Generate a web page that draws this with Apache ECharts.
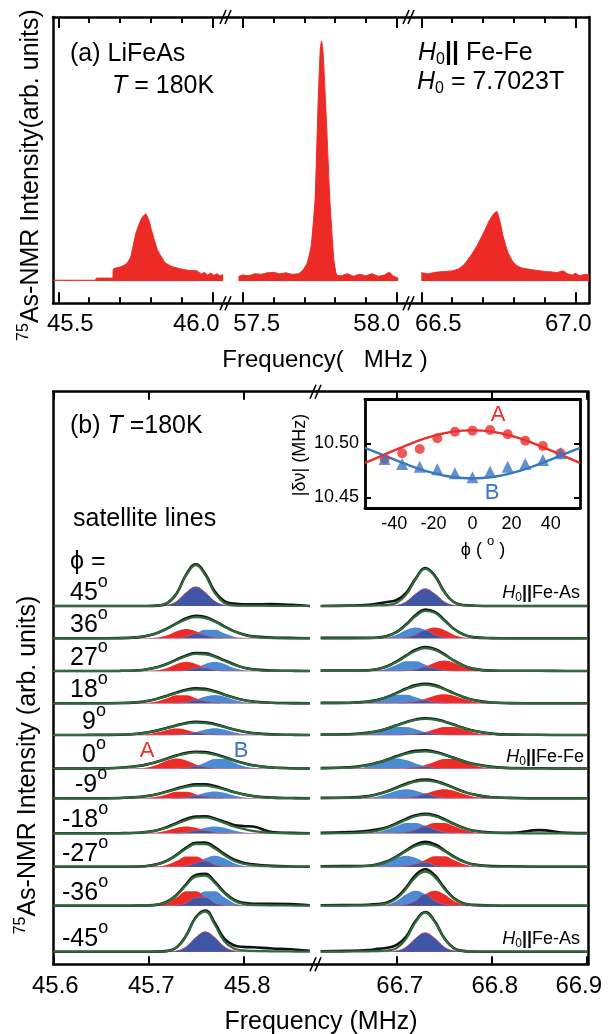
<!DOCTYPE html>
<html><head><meta charset="utf-8">
<script src="https://cdn.jsdelivr.net/npm/echarts@6/dist/echarts.min.js"></script>
<style>html,body{margin:0;padding:0;background:#fff}#c{width:609px;height:1034px}</style>
</head><body><div id="c"></div><script>
// ================= DATA =================
// Panel (a): spectrum, three frequency windows [MHz, intensity]
const specSeg1 = [[45.484,0.003],[45.62,0.003],[45.624,0.012],[45.676,0.012],[45.679,0.05],[45.70,0.058],[45.72,0.07],[45.735,0.1],[45.752,0.2],[45.77,0.26],[45.784,0.28],[45.795,0.25],[45.803,0.21],[45.812,0.17],[45.822,0.13],[45.835,0.1],[45.848,0.075],[45.87,0.06],[45.898,0.05],[45.92,0.045],[45.95,0.042],[45.965,0.03],[45.975,0.035],[45.985,0.025],[45.995,0.033],[46.005,0.024],[46.015,0.03],[46.025,0.022],[46.035,0.027]];
const specSeg2 = [[57.486,0.018],[57.50,0.025],[57.52,0.022],[57.54,0.03],[57.56,0.028],[57.58,0.034],[57.60,0.036],[57.62,0.03],[57.64,0.034],[57.66,0.028],[57.68,0.03],[57.695,0.045],[57.709,0.074],[57.722,0.143],[57.735,0.34],[57.745,0.75],[57.752,0.97],[57.756,1.0],[57.761,0.95],[57.770,0.72],[57.783,0.34],[57.796,0.088],[57.805,0.025],[57.82,0.022],[57.84,0.03],[57.86,0.02],[57.88,0.028],[57.90,0.022],[57.92,0.03],[57.94,0.02],[57.96,0.025],[57.975,0.036],[57.99,0.02],[58.005,0.012]];
const specSeg3 = [[66.50,0.035],[66.52,0.03],[66.54,0.035],[66.56,0.038],[66.58,0.04],[66.60,0.042],[66.62,0.05],[66.64,0.07],[66.663,0.11],[66.68,0.145],[66.702,0.2],[66.72,0.25],[66.735,0.28],[66.745,0.29],[66.755,0.25],[66.765,0.19],[66.781,0.12],[66.795,0.085],[66.806,0.068],[66.825,0.055],[66.845,0.05],[66.87,0.045],[66.90,0.04],[66.921,0.038],[66.94,0.035],[66.96,0.042],[66.975,0.03],[66.99,0.025],[67.00,0.032],[67.015,0.022],[67.03,0.028],[67.045,0.025]];
const tickMajorA = [[45.5,46.0],[57.5,58.0],[66.5,67.0]];
const tickMinorA = [[45.6,45.7,45.8,45.9],[57.6,57.7,57.8,57.9],[66.6,66.7,66.8,66.9]];
const tickLabelsA = [['45.5','46.0'],['57.5','58.0'],['66.5','67.0']];

// Panel (b): satellite lines, rows phi = 45 ... -45
const phiLabels = ['45','36','27','18','9','0','-9','-18','-27','-36','-45'];
const fitGridL = [45.60,45.64,45.67,45.69,45.70,45.71,45.72,45.73,45.74,45.75,45.76,45.77,45.78,45.79,45.80,45.81,45.83,45.85,45.87];
const fitGridR = [66.62,66.65,66.67,66.68,66.69,66.70,66.71,66.72,66.73,66.74,66.75,66.76,66.77,66.78,66.80,66.82,66.85,66.88,66.90];
const fitLeft = [
[0,0,0,0,0,.01,.076,.32,.77,1.02,.77,.32,.076,.015,.01,.01,.005,0,0],
[0,0,.003,.028,.066,.136,.24,.365,.474,.53,.504,.413,.29,.174,.09,.04,.005,0,0],
[0,0,.002,.018,.046,.097,.177,.276,.37,.425,.418,.353,.255,.158,.084,.038,.005,0,0],
[0,0,.005,.03,.063,.115,.182,.257,.32,.35,.336,.284,.212,.14,.082,.041,.007,.001,0],
[0,0,.007,.035,.067,.114,.175,.235,.286,.31,.299,.258,.199,.137,.084,.046,.01,.001,0],
[0,.001,.016,.063,.109,.173,.245,.317,.373,.4,.388,.344,.274,.2,.132,.078,.022,.004,0],
[0,0,.006,.031,.062,.106,.166,.23,.286,.317,.314,.277,.22,.153,.097,.054,.012,.002,0],
[0,0,.001,.014,.036,.078,.147,.238,.328,.389,.395,.344,.26,.17,.11,.06,.01,0,0],
[0,0,0,.005,.02,.061,.149,.29,.452,.564,.564,.452,.29,.15,.075,.04,.01,0,0],
[0,0,0,.001,.005,.028,.101,.265,.516,.727,.751,.566,.313,.13,.045,.02,.01,.005,0],
[0,0,0,0,0,.001,.016,.106,.4,.846,1.0,.673,.26,.08,.035,.02,.01,.005,0]];
const dataLeft = [
[0,0,0,0,0,.01,.07,.32,.79,1.04,.8,.36,.12,.06,.04,.04,.05,.03,0],
[0,0,.005,.03,.07,.14,.25,.38,.5,.56,.53,.43,.3,.18,.1,.05,.02,.01,0],
[0,0,.004,.02,.05,.1,.18,.29,.39,.45,.44,.37,.27,.17,.09,.045,.01,.005,0],
[0,0,.006,.03,.065,.12,.19,.27,.34,.375,.36,.3,.22,.145,.085,.045,.012,.005,0],
[0,.002,.008,.035,.068,.116,.18,.245,.3,.33,.32,.275,.205,.14,.086,.05,.015,.005,0],
[0,.003,.02,.065,.11,.175,.25,.33,.39,.42,.41,.36,.285,.205,.135,.08,.025,.008,0],
[0,.002,.008,.033,.064,.11,.175,.245,.31,.35,.35,.305,.235,.16,.1,.058,.018,.006,0],
[0,0,.003,.015,.04,.085,.16,.26,.36,.42,.425,.37,.29,.21,.18,.17,.03,.01,0],
[0,0,0,.006,.022,.065,.155,.3,.475,.6,.605,.49,.32,.18,.1,.06,.02,.005,0],
[0,0,0,.002,.006,.03,.105,.275,.54,.77,.8,.6,.34,.15,.07,.05,.05,.04,.01],
[0,0,0,0,0,.002,.02,.11,.41,.86,1.03,.72,.33,.16,.12,.11,.08,.06,.02]];
const fitRight = [
[0,.005,.01,.02,.03,.08,.283,.669,.93,.747,.35,.097,.02,.005,0,0,0,0,0],
[0,0,.003,.013,.052,.152,.335,.552,.683,.636,.443,.234,.092,.027,.002,0,0,0,0],
[0,.001,.017,.048,.114,.228,.374,.507,.57,.528,.406,.258,.136,.059,.006,0,0,0,0],
[.001,.006,.04,.085,.156,.25,.35,.43,.46,.43,.35,.25,.156,.085,.017,.002,0,0,0],
[.002,.012,.055,.099,.162,.24,.317,.374,.4,.383,.328,.254,.178,.111,.031,.006,0,0,0],
[.004,.023,.084,.143,.215,.295,.37,.417,.43,.401,.341,.263,.186,.117,.036,.007,.001,0,0],
[.001,.01,.051,.099,.168,.257,.346,.415,.44,.415,.346,.257,.168,.099,.023,.003,0,0,0],
[0,.003,.029,.067,.135,.23,.338,.426,.46,.426,.338,.23,.135,.067,.011,.001,0,0,0],
[0,.001,.019,.053,.125,.243,.391,.519,.57,.519,.391,.243,.125,.053,.005,0,0,0,0],
[0,.005,.01,.02,.06,.18,.425,.715,.85,.715,.425,.179,.055,.015,.005,0,0,0,0],
[0,.005,.01,.015,.03,.09,.33,.744,.975,.744,.33,.086,.015,.003,0,0,0,0,0]];
const dataRight = [
[0,.01,.03,.06,.1,.15,.33,.69,.95,.76,.36,.1,.025,.01,0,0,0,0,0],
[.01,.01,.01,.02,.06,.16,.35,.58,.72,.66,.46,.24,.1,.03,.005,0,0,0,0],
[.01,.01,.02,.05,.12,.24,.39,.53,.6,.55,.42,.265,.14,.06,.01,.005,.005,0,0],
[.01,.015,.045,.09,.16,.26,.37,.455,.49,.455,.36,.255,.16,.087,.02,.005,0,0,0],
[.01,.02,.06,.1,.165,.245,.325,.39,.42,.4,.34,.26,.18,.112,.035,.01,.005,0,0],
[.01,.03,.09,.15,.225,.31,.39,.44,.455,.42,.35,.27,.19,.12,.04,.01,.005,0,0],
[.01,.02,.055,.105,.175,.27,.365,.44,.47,.44,.36,.265,.17,.1,.025,.01,0,0,0],
[.01,.03,.06,.1,.15,.25,.36,.45,.49,.45,.35,.24,.14,.07,.02,.01,.08,.01,.005],
[.01,.015,.025,.06,.135,.26,.41,.55,.62,.56,.41,.255,.135,.06,.015,.01,0,0,0],
[.01,.015,.025,.04,.08,.21,.46,.77,.91,.76,.45,.19,.06,.02,.005,0,0,0,0],
[.01,.02,.04,.07,.1,.17,.38,.77,.99,.76,.34,.09,.02,.005,0,0,0,0,0]];
const compGridL = [45.68,45.69,45.70,45.71,45.72,45.73,45.74,45.75,45.76,45.77,45.78,45.79,45.80,45.81,45.82,45.83];
const compGridR = [66.65,66.66,66.67,66.68,66.69,66.70,66.71,66.72,66.73,66.74,66.75,66.76,66.77,66.78,66.79,66.80];
const compALeft = [
[0,0,0,.002,.021,.12,.339,.48,.339,.12,.021,.002,0,0,0,0],
[0,.001,.003,.02,.077,.175,.23,.175,.077,.02,.003,.001,0,0,0,0],
[0,.001,.003,.02,.077,.175,.23,.175,.077,.02,.003,.001,0,0,0,0],
[0,.002,.014,.052,.127,.199,.199,.127,.052,.014,.002,0,0,0,0,0],
[.001,.005,.022,.066,.128,.16,.128,.066,.022,.005,.001,0,0,0,0,0],
[.001,.007,.034,.103,.2,.25,.2,.103,.034,.007,.001,0,0,0,0,0],
[0,.002,.011,.042,.103,.161,.161,.103,.042,.011,.002,0,0,0,0,0],
[0,.001,.005,.023,.07,.136,.17,.136,.07,.023,.005,.001,0,0,0,0],
[0,0,.001,.01,.05,.148,.257,.257,.148,.05,.01,.001,0,0,0,0],
[0,0,.002,.014,.07,.21,.364,.364,.21,.07,.014,.002,0,0,0,0],
[0,0,0,0,.002,.022,.125,.354,.5,.354,.125,.022,.002,0,0,0]];
const compBLeft = [
[0,0,0,.002,.021,.12,.339,.48,.339,.12,.021,.002,0,0,0,0],
[0,0,0,0,.001,.008,.041,.124,.215,.215,.124,.041,.008,.001,0,0],
[0,0,0,0,.001,.003,.02,.077,.175,.23,.175,.077,.02,.003,.001,0],
[0,0,0,0,.001,.006,.028,.086,.168,.21,.168,.086,.028,.006,.001,0],
[0,0,0,0,.001,.005,.023,.07,.136,.17,.136,.07,.023,.005,.001,0],
[0,0,0,0,0,.003,.017,.062,.152,.237,.237,.152,.062,.017,.003,0],
[0,0,0,0,.001,.005,.023,.07,.136,.17,.136,.07,.023,.005,.001,0],
[0,0,0,0,.001,.005,.023,.07,.136,.17,.136,.07,.023,.005,.001,0],
[0,0,0,0,.001,.003,.023,.092,.209,.275,.209,.092,.023,.003,.001,0],
[0,0,0,0,.002,.014,.07,.21,.364,.364,.21,.07,.014,.002,0,0],
[0,0,0,0,.002,.022,.125,.354,.5,.354,.125,.022,.002,0,0,0]];
const compARight = [
[0,0,0,0,.002,.019,.107,.304,.43,.304,.107,.019,.002,0,0,0],
[0,0,0,0,.001,.003,.023,.09,.205,.27,.205,.09,.023,.003,.001,0],
[0,0,0,0,0,.001,.008,.035,.107,.208,.26,.208,.107,.035,.008,.001],
[0,0,0,0,0,.003,.014,.047,.113,.189,.225,.189,.113,.047,.014,.003],
[0,0,0,0,0,0,.006,.025,.071,.142,.201,.201,.142,.071,.025,.006],
[0,0,0,0,0,0,.008,.03,.085,.17,.24,.24,.17,.085,.03,.008],
[0,0,0,0,0,.003,.014,.047,.113,.189,.225,.189,.113,.047,.014,.003],
[0,0,0,0,.001,.008,.032,.092,.183,.259,.259,.183,.092,.032,.008,.001],
[0,0,0,0,0,.003,.018,.068,.167,.26,.26,.167,.068,.018,.003,0],
[0,0,0,0,.002,.005,.032,.125,.285,.375,.285,.125,.032,.005,.002,0],
[0,0,0,0,.002,.021,.118,.336,.475,.336,.118,.021,.002,0,0,0]];
const compBRight = [
[0,0,0,0,.002,.019,.107,.304,.43,.304,.107,.019,.002,0,0,0],
[0,0,.001,.003,.023,.09,.205,.27,.205,.09,.023,.003,.001,0,0,0],
[0,.001,.003,.017,.065,.158,.246,.246,.158,.065,.017,.003,.001,0,0,0],
[.001,.007,.027,.076,.153,.216,.216,.153,.076,.027,.007,.001,0,0,0,0],
[.001,.006,.025,.071,.142,.201,.201,.142,.071,.025,.006,.001,0,0,0,0],
[.003,.016,.053,.125,.21,.25,.21,.125,.053,.016,.003,0,0,0,0,0],
[0,.003,.014,.047,.113,.189,.225,.189,.113,.047,.014,.003,0,0,0,0],
[0,.001,.008,.032,.092,.183,.259,.259,.183,.092,.032,.008,.001,0,0,0],
[0,.001,.008,.037,.113,.22,.275,.22,.113,.037,.008,.001,0,0,0,0],
[0,0,.002,.005,.032,.125,.285,.375,.285,.125,.032,.005,.002,0,0,0],
[0,0,0,0,.002,.021,.118,.336,.475,.336,.118,.021,.002,0,0,0]];
const ticksB = [[45.6,45.7,45.8],[66.7,66.8,66.9]];
const tickLabelsB = [['45.6','45.7','45.8'],['66.7','66.8','66.9']];

// Inset: |delta nu| vs phi
const insetPhi = [-45,-36,-27,-18,-9,0,9,18,27,36,45];
const shiftA = [10.4855,10.4907,10.4947,10.5046,10.5107,10.5117,10.5123,10.5083,10.5024,10.4975,10.4907];
const shiftB = [10.4855,10.4808,10.4783,10.4759,10.4722,10.4685,10.4737,10.4783,10.4808,10.4845,10.4907];
const fitPhi = [-55,-45,-35,-25,-15,-5,0,5,15,25,35,45,55];
const fitA = [10.4818,10.4895,10.4972,10.504,10.509,10.5117,10.512,10.5117,10.509,10.504,10.4972,10.4895,10.4818];
const fitB = [10.4957,10.4885,10.4813,10.475,10.4703,10.4678,10.4675,10.4678,10.4703,10.475,10.4813,10.4885,10.4957];
const insetXTicks = [-40,-20,0,20,40];
const insetYTicks = [10.45,10.50];
const insetGuides = [-45,0,45];

// ================= LAYOUT / STYLE =================
const FONT = '"Liberation Sans", Arial, Helvetica, sans-serif';
const RED = '#ED2B26', LBLUE = '#4C8BD3', DBLUE = '#3F56A7', GREEN = '#2F6B3A', BLK = '#000';
const A_TOP = 17, A_BOT = 303.3;
const segA = [{l:53,r:227,min:45.4828,max:46.0477},{l:227,r:410,min:57.449,max:58.0432},{l:410,r:589,min:66.4633,max:67.0445}];
const labelShiftA = [[12,-16],[14,-20],[17,-7]];
const B_TOP = 391.7, B_BOT = 964.3;
const segB = [{l:53.3,r:317,min:45.6,max:45.8776},{l:317,r:588.3,min:66.6161,max:66.9016}];
const labelShiftB = [[2,3,4],[3,3,-8]];
const rowBase = [606,638.3,671,703.3,735,768.5,798.3,833.3,866.7,905.7,951.7];
const rowLabelX = [70,70,70,70,82,82,75,62,62,62,62];
const UNIT = 40;
const IN = {l:365,r:580,t:399.3,b:508.3,xmin:-55,xmax:55,ymin:10.4398,ymax:10.5407};

const grids=[], xAxes=[], yAxes=[], series=[], graphics=[];
const axBase = () => ({type:'value', axisLine:{show:false,onZero:false}, axisTick:{show:false}, axisLabel:{show:false}, splitLine:{show:false}, minorTick:{show:false}, minorSplitLine:{show:false}});
function addGrid(l,r,t,b,extra){grids.push(Object.assign({left:l,top:t,width:r-l,height:b-t,containLabel:false,outerBoundsMode:'none',show:false},extra||{}));return grids.length-1;}
function addX(c){xAxes.push(Object.assign(axBase(),c));return xAxes.length-1;}
function addY(c){yAxes.push(Object.assign(axBase(),c));return yAxes.length-1;}
const frameLine = (w) => ({show:true,onZero:false,lineStyle:{color:BLK,width:w||2.5}});
const zip = (xs,ys) => xs.slice(0,Math.min(xs.length,ys.length)).map((x,i)=>[x,ys[i]]);
function shiftRich(shifts, fs){
  const rich={};
  shifts.forEach(s=>{const k=(s>=0?'r':'l')+Math.abs(s);rich[k]={fontSize:fs,fontFamily:FONT,color:BLK,padding:s>=0?[0,0,0,2*s]:[0,-2*s,0,0]};});
  return rich;
}
function shiftFmt(ticks, labels, shifts){
  return v => {const i=ticks.findIndex(t=>Math.abs(t-v)<1e-6); if(i<0) return ''; const s=shifts[i]; return '{'+(s>=0?'r':'l')+Math.abs(s)+'|'+labels[i]+'}';};
}

// ---------- Panel (a) ----------
const specData=[specSeg1,specSeg2,specSeg3];
segA.forEach((s,k)=>{
  const gi=addGrid(s.l,s.r,A_TOP,A_BOT);
  const xm=addX({gridIndex:gi,position:'bottom',min:s.min,max:s.max,axisLine:frameLine(),
    axisTick:{show:true,inside:true,length:11,customValues:tickMajorA[k],lineStyle:{color:BLK,width:2}},
    axisLabel:{show:true,customValues:tickMajorA[k],margin:9,fontSize:24,fontFamily:FONT,color:BLK,
      formatter:shiftFmt(tickMajorA[k],tickLabelsA[k],labelShiftA[k]),rich:shiftRich(labelShiftA[k],24)}});
  addX({gridIndex:gi,position:'bottom',min:s.min,max:s.max,axisTick:{show:true,inside:true,length:6,customValues:tickMinorA[k],lineStyle:{color:BLK,width:2}}});
  addX({gridIndex:gi,position:'top',min:s.min,max:s.max,axisLine:frameLine(),axisTick:{show:true,inside:true,length:11,customValues:tickMajorA[k],lineStyle:{color:BLK,width:2}}});
  addX({gridIndex:gi,position:'top',min:s.min,max:s.max,axisTick:{show:true,inside:true,length:6,customValues:tickMinorA[k],lineStyle:{color:BLK,width:2}}});
  const yi=addY({gridIndex:gi,min:-0.093,max:1.1,position:k===2?'right':'left',axisLine:k===1?{show:false,onZero:false}:frameLine()});
  series.push({type:'line',xAxisIndex:xm,yAxisIndex:yi,data:specData[k],symbol:'none',smooth:0.15,
    lineStyle:{color:RED,width:1},areaStyle:{color:RED,opacity:1},z:3});
});

// ---------- Panel (b) frame ----------
segB.forEach((s,k)=>{
  const gi=addGrid(s.l,s.r,B_TOP,B_BOT);
  addX({gridIndex:gi,position:'bottom',min:s.min,max:s.max,axisLine:frameLine(),
    axisTick:{show:true,inside:true,length:8,customValues:ticksB[k],lineStyle:{color:BLK,width:2}},
    axisLabel:{show:true,customValues:ticksB[k],margin:10,fontSize:24,fontFamily:FONT,color:BLK,
      formatter:shiftFmt(ticksB[k],tickLabelsB[k],labelShiftB[k]),rich:shiftRich(labelShiftB[k],24)}});
  addX({gridIndex:gi,position:'top',min:s.min,max:s.max,axisLine:frameLine(),
    axisTick:{show:true,inside:true,length:8,customValues:ticksB[k],lineStyle:{color:BLK,width:2}}});
  addY({gridIndex:gi,min:0,max:1,position:k===0?'left':'right',axisLine:frameLine()});
});

// ---------- Panel (b) rows ----------
rowBase.forEach((base,r)=>{
  segB.forEach((s,k)=>{
    const gi=addGrid(s.l,s.r,base-UNIT,base);
    const xi=addX({gridIndex:gi,min:s.min,max:s.max,show:false});
    const yi=addY({gridIndex:gi,min:0,max:1,show:false});
    const cg=k?compGridR:compGridL, fg=k?fitGridR:fitGridL;
    const A=(k?compARight:compALeft)[r], B=(k?compBRight:compBLeft)[r];
    const ov=A.map((v,i)=>Math.min(v,B[i]));
    const area=(d,c,lw,lc,z)=>({type:'line',xAxisIndex:xi,yAxisIndex:yi,data:zip(cg,d),symbol:'none',smooth:0.4,clip:false,
      lineStyle:{width:lw,color:lc},areaStyle:{color:c,opacity:1},z:z,silent:true});
    series.push(area(B,LBLUE,0,LBLUE,2), area(A,RED,0,RED,2), area(ov,DBLUE,0.8,'#B65F86',3));
    series.push({type:'line',xAxisIndex:xi,yAxisIndex:yi,data:zip(fg,(k?dataRight:dataLeft)[r]),symbol:'none',smooth:0.45,clip:false,
      lineStyle:{width:2.6,color:'#111'},z:4,silent:true});
    series.push({type:'line',xAxisIndex:xi,yAxisIndex:yi,data:zip(fg,(k?fitRight:fitLeft)[r]),symbol:'none',smooth:0.45,clip:false,
      lineStyle:{width:2.2,color:GREEN},z:5,silent:true});
  });
});

// ---------- Inset ----------
{
  const gi=addGrid(IN.l,IN.r,IN.t,IN.b,{show:true,backgroundColor:'#fff',borderWidth:0,z:6});
  const xb=addX({gridIndex:gi,position:'bottom',min:IN.xmin,max:IN.xmax,axisLine:frameLine(2.8),
    axisLabel:{show:true,customValues:insetXTicks,margin:7,fontSize:18,fontFamily:FONT,color:BLK},z:7});
  addX({gridIndex:gi,position:'top',min:IN.xmin,max:IN.xmax,axisLine:frameLine(2.8),z:7});
  const yl=addY({gridIndex:gi,position:'left',min:IN.ymin,max:IN.ymax,axisLine:frameLine(2.8),
    axisTick:{show:true,inside:true,length:6,customValues:insetYTicks,lineStyle:{color:BLK,width:2}},
    axisLabel:{show:true,customValues:insetYTicks,margin:6,fontSize:18,fontFamily:FONT,color:BLK,formatter:v=>v.toFixed(2)},z:7});
  addY({gridIndex:gi,position:'right',min:IN.ymin,max:IN.ymax,axisLine:frameLine(2.8),
    axisTick:{show:true,inside:true,length:6,customValues:insetYTicks,lineStyle:{color:BLK,width:2}},z:7});
  series.push({type:'line',xAxisIndex:xb,yAxisIndex:yl,data:zip(fitPhi,fitA),symbol:'none',smooth:0.5,lineStyle:{color:'#E8302F',width:2.4},z:8,
    markLine:{silent:true,symbol:['none','none'],label:{show:false},lineStyle:{type:[6,4],color:BLK,width:2.4},data:insetGuides.map(v=>({xAxis:v}))}});
  series.push({type:'line',xAxisIndex:xb,yAxisIndex:yl,data:zip(fitPhi,fitB),symbol:'none',smooth:0.5,lineStyle:{color:'#3B76C2',width:2.4},z:8});
  series.push({type:'scatter',xAxisIndex:xb,yAxisIndex:yl,data:zip(insetPhi,shiftA),symbol:'circle',symbolSize:10,itemStyle:{color:'#E8302F'},z:9});
  series.push({type:'scatter',xAxisIndex:xb,yAxisIndex:yl,data:zip(insetPhi,shiftB),symbol:'triangle',symbolSize:12,itemStyle:{color:'#3B76C2'},z:10});
}

// ---------- Texts ----------
function txt(x,y,text,o){
  o=o||{}; const fs=o.fs||25, col=o.color||BLK, lh=o.lh||fs;
  const base={fontSize:fs,fontFamily:FONT,fill:col,color:col,lineHeight:lh};
  const sm=Math.round(fs*0.64);
  const rich={
    i:Object.assign({},base,{fontStyle:'italic'}),
    s:Object.assign({},base,{fontSize:sm,lineHeight:sm,verticalAlign:'bottom'}),
    u:Object.assign({},base,{fontSize:sm,lineHeight:sm,verticalAlign:'top'}),
    d:Object.assign({},base,{fontSize:Math.round(fs*0.7),lineHeight:Math.round(fs*0.55),verticalAlign:'top'}),
    b:Object.assign({},base,{fontWeight:'bold'}),
    n:Object.assign({},base)
  };
  return {type:'text',x:x,y:y,rotation:o.rot||0,z:100,silent:true,
    style:{text:text,fontSize:fs,fontFamily:FONT,fill:col,lineHeight:lh,align:o.align||'left',textAlign:o.align||'left',
      verticalAlign:o.va||'middle',textVerticalAlign:o.va||'middle',rich:rich}};
}
// panel (a)
graphics.push(txt(70,54,'(a) LiFeAs'));
graphics.push(txt(112,86,'{i|T} = 180K'));
graphics.push(txt(418,53,'{i|H}{s|0}{b|||} Fe-Fe',{lh:30}));
graphics.push(txt(417,82,'{i|H}{s|0} = 7.7023T',{lh:30}));
graphics.push(txt(31,175,'{u|75}As-NMR Intensity(arb. units)',{rot:Math.PI/2,align:'center',lh:30}));
graphics.push(txt(325,360,'Frequency(   MHz )',{align:'center',fs:24}));
// panel (b)
graphics.push(txt(70,426,'(b) {i|T} =180K'));
graphics.push(txt(73,519,'satellite lines'));
graphics.push(txt(70,562,'ϕ ='));
rowBase.forEach((b,r)=>graphics.push(txt(rowLabelX[r],b-13,phiLabels[r]+'{d|o}',{lh:40})));
graphics.push(txt(147,751,'A',{fs:22,color:'#E8302F',align:'center'}));
graphics.push(txt(241,751,'B',{fs:22,color:'#3B76C2',align:'center'}));
graphics.push(txt(580,593,'{i|H}{s|0}{b|||}Fe-As',{fs:18,align:'right',lh:22}));
graphics.push(txt(584,757,'{i|H}{s|0}{b|||}Fe-Fe',{fs:18,align:'right',lh:22}));
graphics.push(txt(580,939,'{i|H}{s|0}{b|||}Fe-As',{fs:18,align:'right',lh:22}));
graphics.push(txt(28,765,'{u|75}As-NMR Intensity (arb. units)',{rot:Math.PI/2,align:'center',lh:30}));
graphics.push(txt(321,1022,'Frequency (MHz)',{align:'center',fs:25}));
// inset texts
graphics.push(txt(498,415,'A',{fs:22,color:'#E8302F',align:'center'}));
graphics.push(txt(492,493,'B',{fs:22,color:'#3B76C2',align:'center'}));
graphics.push(txt(483,550,'ϕ ( {d|o} )',{fs:18,align:'center',lh:30}));
graphics.push(txt(300,455,'|δν| {n|(MHz)}',{fs:18,rot:Math.PI/2,align:'center'}));
// axis break marks
function brk(cx,cy){
  [-4,1].forEach(dx=>graphics.push({type:'line',z:101,silent:true,shape:{x1:cx+dx-3,y1:cy+7,x2:cx+dx+3,y2:cy-7},style:{stroke:BLK,lineWidth:1.6}}));
}
[segA[0].r,segA[1].r].forEach(x=>{brk(x,A_TOP);brk(x,A_BOT);});
brk(segB[0].r,B_TOP); brk(segB[0].r,B_BOT);

const chart=echarts.init(document.getElementById('c'),null,{renderer:'canvas',width:609,height:1034});
chart.setOption({animation:false,backgroundColor:'#fff',grid:grids,xAxis:xAxes,yAxis:yAxes,series:series,graphic:{elements:graphics}});
</script></body></html>
